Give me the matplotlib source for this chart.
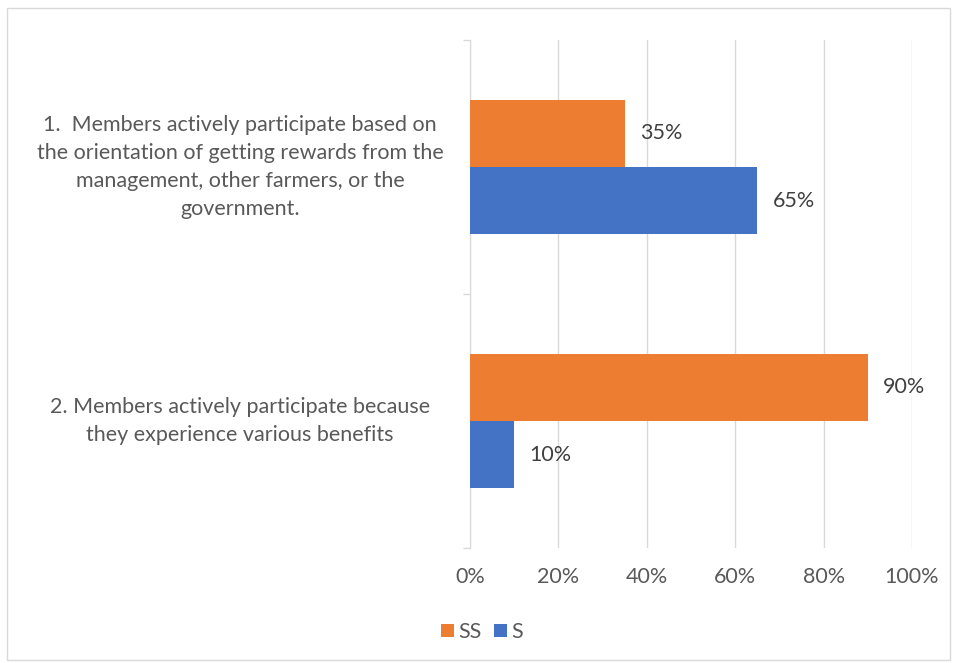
import numpy as np
import matplotlib.pyplot as plt
from matplotlib.patches import Rectangle
from matplotlib.ticker import FuncFormatter

# data
statements = [
    "1.  Members actively participate based on\nthe orientation of getting rewards from the\nmanagement, other farmers, or the\ngovernment.",
    "2. Members actively participate because\nthey experience various benefits",
]
ss_vals = [35, 90]
s_vals = [65, 10]
series_names = ["SS", "S"]

orange = "#ED7D31"
blue = "#4472C4"
grey_txt = "#595959"
grid_c = "#D9D9D9"
fs = 15.5

plt.rcParams["font.family"] = ["Lato", "DejaVu Sans"]

fig = plt.figure(figsize=(9.54, 6.63), dpi=100)
ax = fig.add_axes([470 / 954, 1 - 548 / 663, 442 / 954, 508 / 663])

y = np.arange(len(statements))
h = 0.264
b1 = ax.barh(y - h / 2, ss_vals, height=h, color=orange, label=series_names[0], zorder=3)
b2 = ax.barh(y + h / 2, s_vals, height=h, color=blue, label=series_names[1], zorder=3)

for bars, vals in ((b1, ss_vals), (b2, s_vals)):
    for bar, v in zip(bars, vals):
        ax.text(v + 3.5, bar.get_y() + bar.get_height() / 2, f"{v}%",
                va="center", ha="left", fontsize=fs, color="#404040")

ax.set_xlim(0, 100)
ax.set_ylim(1.5, -0.5)
ax.set_xticks(np.arange(0, 101, 20))
ax.xaxis.set_major_formatter(FuncFormatter(lambda v, p: f"{v:.0f}%"))
ax.tick_params(axis="x", length=0, pad=14, labelsize=fs, labelcolor=grey_txt)
ax.grid(axis="x", color=grid_c, linewidth=1, zorder=0)

ax.set_yticks([])
ax.set_yticks([-0.5, 0.5, 1.5], minor=True)
ax.tick_params(axis="y", which="minor", length=5, color=grid_c, width=1)
for s in ["top", "right", "bottom"]:
    ax.spines[s].set_visible(False)
ax.spines["left"].set_color(grid_c)

# category labels, centred text blocks left of the axis
for yi, txt in zip(y, statements):
    yf = ax.transData.transform((0, yi))[1]
    fig.text(240 / 954, yf / fig.bbox.height, txt, ha="center", va="center",
             multialignment="center", fontsize=fs, color=grey_txt, linespacing=1.5)

fig.legend(handles=[b1, b2], loc="center", bbox_to_anchor=(482 / 954, 1 - 632 / 663),
           ncol=2, frameon=False, fontsize=fs, handlelength=0.6, handleheight=0.6,
           columnspacing=0.6, handletextpad=0.2, labelcolor=grey_txt)

fig.patches.append(Rectangle((7 / 954, 3 / 663), 943 / 954, 652 / 663,
                             transform=fig.transFigure, fill=False,
                             edgecolor=grid_c, linewidth=1))

fig.savefig("out.png", dpi=100)
